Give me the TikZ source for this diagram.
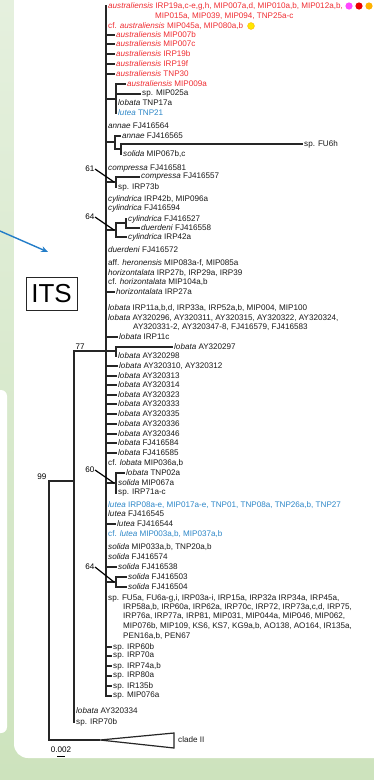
\documentclass[tikz,border=0pt]{standalone}
\usepackage{fontspec}
\setmainfont{Liberation Sans}
\usetikzlibrary{arrows.meta}
\definecolor{austred}{RGB}{240,45,50}
\definecolor{lutblue}{RGB}{45,135,200}
\definecolor{arrblue}{RGB}{35,125,200}
\definecolor{gtop}{RGB}{229,240,222}
\definecolor{gbot}{RGB}{205,227,189}
\definecolor{cmag}{RGB}{255,70,255}
\definecolor{cred}{RGB}{235,0,0}
\definecolor{corange}{RGB}{255,178,0}
\definecolor{cyellow}{RGB}{255,232,0}
\begin{document}
\begin{tikzpicture}[x=1pt,y=-1pt,
  br/.style={draw=black!85,line width=1.2pt},
  tx/.style={anchor=west,inner sep=1pt,font=\fontsize{8.1}{9}\selectfont,text=black!90},
  rd/.style={tx,text=austred},
  bl/.style={tx,text=lutblue},
  ptr/.style={draw=black,line width=1.2pt},
  pl/.style={anchor=east,inner sep=0.5pt,font=\fontsize{8.1}{9}\selectfont}]
\useasboundingbox (0,0) rectangle (374,780);
% background
\shade[top color=gtop,bottom color=gbot] (0,0) rectangle (374,780);
\fill[white,rounded corners=14pt] (14,-30) rectangle (420,758);
\fill[white,rounded corners=6pt] (-20,390) rectangle (7,733);
% arrow and ITS box
\coordinate (arrS) at (0,231);
\coordinate (arrE) at (48,252);
\draw[arrblue,line width=1.4pt,-{Stealth[length=7pt,width=6pt]}] (arrS) -- (arrE);
\node[draw=black!85,line width=0.8pt,minimum width=51pt,minimum height=33pt,inner sep=0pt,font=\fontsize{26}{26}\selectfont] (its) at (51.5,294) {ITS};
% internal nodes
\coordinate (R) at (106,351);
\coordinate (S1) at (116,99);
\coordinate (NA) at (115,142);
\coordinate (NB) at (121,149);
\coordinate (N61) at (116,182);
\coordinate (N64a) at (116,230);
\coordinate (ND) at (126,223);
\coordinate (NE) at (116,351);
\coordinate (N60) at (116,483);
\coordinate (N64b) at (116,582);
\coordinate (N77) at (74,481);
\coordinate (N99) at (49,610);
\coordinate (C2) at (100,740);
% leaves on backbone
\node[rd] (a1) at (107,6) {\textit{australiensis} IRP19a,c-e,g,h, MIP007a,d, MIP010a,b, MIP012a,b,};
\node[rd] (a1b) at (154,16) {MIP015a, MIP039, MIP094, TNP25a-c};
\node[rd] (a2) at (107,26) {cf. \textit{australiensis} MIP045a, MIP080a,b};
\node[rd] (a3) at (115,35) {\textit{australiensis} MIP007b};
\node[rd] (a4) at (115,44) {\textit{australiensis} MIP007c};
\node[rd] (a5) at (115,54) {\textit{australiensis} IRP19b};
\node[rd] (a6) at (115,64) {\textit{australiensis} IRP19f};
\node[rd] (a7) at (115,74) {\textit{australiensis} TNP30};
\node[rd] (s1a) at (126,84) {\textit{australiensis} MIP009a};
\node[tx] (s1b) at (141,94) {sp. MIP025a};
\node[tx] (s1c) at (117,103) {\textit{lobata} TNP17a};
\node[bl] (s1d) at (117,113) {\textit{lutea} TNP21};
\node[tx] (b1) at (107,126) {\textit{annae} FJ416564};
\node[tx] (na1) at (121,136) {\textit{annae} FJ416565};
\node[tx] (nb1) at (303,144) {sp. FU6h};
\node[tx] (nb2) at (122,154) {\textit{solida} MIP067b,c};
\node[tx] (b2) at (107,169) {\textit{compressa} FJ416581};
\node[tx] (c1) at (140,177) {\textit{compressa} FJ416557};
\node[tx] (c2) at (117,187) {sp. IRP73b};
\node[tx] (b3) at (107,199) {\textit{cylindrica} IRP42b, MIP096a};
\node[tx] (b4) at (107,208) {\textit{cylindrica} FJ416594};
\node[tx] (d1) at (127,219) {\textit{cylindrica} FJ416527};
\node[tx] (d2) at (140,228) {\textit{duerdeni} FJ416558};
\node[tx] (d3) at (127,237) {\textit{cylindrica} IRP42a};
\node[tx] (b5) at (107,250) {\textit{duerdeni} FJ416572};
\node[tx] (b6) at (107,263) {aff. \textit{heronensis} MIP083a-f, MIP085a};
\node[tx] (b7) at (107,273) {\textit{horizontalata} IRP27b, IRP29a, IRP39};
\node[tx] (b8) at (107,282) {cf. \textit{horizontalata} MIP104a,b};
\node[tx] (b9) at (115,292) {\textit{horizontalata} IRP27a};
\node[tx] (b10) at (107,308) {\textit{lobata} IRP11a,b,d, IRP33a, IRP52a,b, MIP004, MIP100};
\node[tx] (b11) at (107,318) {\textit{lobata} AY320296, AY320311, AY320315, AY320322, AY320324,};
\node[tx] (b11b) at (132,327) {AY320331-2, AY320347-8, FJ416579, FJ416583};
\node[tx] (b12) at (118,337) {\textit{lobata} IRP11c};
\node[tx] (e1) at (173,347) {\textit{lobata} AY320297};
\node[tx] (e2) at (117,356) {\textit{lobata} AY320298};
\node[tx] (b13) at (118,366) {\textit{lobata} AY320310, AY320312};
\node[tx] (b14) at (117,376) {\textit{lobata} AY320313};
\node[tx] (b15) at (117,385) {\textit{lobata} AY320314};
\node[tx] (b16) at (117,395) {\textit{lobata} AY320323};
\node[tx] (b17) at (117,404) {\textit{lobata} AY320333};
\node[tx] (b18) at (117,414) {\textit{lobata} AY320335};
\node[tx] (b19) at (117,424) {\textit{lobata} AY320336};
\node[tx] (b20) at (117,434) {\textit{lobata} AY320346};
\node[tx] (b21) at (117,443) {\textit{lobata} FJ416584};
\node[tx] (b22) at (117,453) {\textit{lobata} FJ416585};
\node[tx] (b23) at (107,463) {cf. \textit{lobata} MIP036a,b};
\node[tx] (f1) at (125,473) {\textit{lobata} TNP02a};
\node[tx] (f2) at (117,483) {\textit{solida} MIP067a};
\node[tx] (f3) at (117,493) {sp. IRP71a-c};
\node[bl] (b24) at (107,505) {\textit{lutea} IRP08a-e, MIP017a-e, TNP01, TNP08a, TNP26a,b, TNP27};
\node[tx] (b25) at (107,514) {\textit{lutea} FJ416545};
\node[tx] (b26) at (116,524) {\textit{lutea} FJ416544};
\node[bl] (b27) at (107,534) {cf. \textit{lutea} MIP003a,b, MIP037a,b};
\node[tx] (b28) at (107,547) {\textit{solida} MIP033a,b, TNP20a,b};
\node[tx] (b29) at (107,557) {\textit{solida} FJ416574};
\node[tx] (b30) at (117,567) {\textit{solida} FJ416538};
\node[tx] (g1) at (127,577) {\textit{solida} FJ416503};
\node[tx] (g2) at (127,587) {\textit{solida} FJ416504};
\node[tx] (b31) at (107,598) {sp. FU5a, FU6a-g,i, IRP03a-i, IRP15a, IRP32a IRP34a, IRP45a,};
\node[tx] (b31b) at (122,607) {IRP58a,b, IRP60a, IRP62a, IRP70c, IRP72, IRP73a,c,d, IRP75,};
\node[tx] (b31c) at (122,616) {IRP76a, IRP77a, IRP81, MIP031, MIP044a, MIP046, MIP062,};
\node[tx] (b31d) at (122,626) {MIP076b, MIP109, KS6, KS7, KG9a,b, AO138, AO164, IR135a,};
\node[tx] (b31e) at (122,636) {PEN16a,b, PEN67};
\node[tx] (b32) at (112,647) {sp. IRP60b};
\node[tx] (b33) at (112,656) {sp. IRP70a};
\node[tx] (b34) at (112,666) {sp. IRP74a,b};
\node[tx] (b35) at (112,676) {sp. IRP80a};
\node[tx] (b36) at (112,686) {sp. IR135b};
\node[tx] (b37) at (112,696) {sp. MIP076a};
\node[tx] (h1) at (75,711) {\textit{lobata} AY320334};
\node[tx] (h2) at (75,722) {sp. IRP70b};
\node[tx] (cl2) at (177,740) {clade II};
% dots
\fill[cmag] (349,6) circle (3.6);
\fill[cred] (359,6) circle (3.6);
\fill[corange] (369,6) circle (3.6);
\filldraw[fill=cyellow,draw=corange,line width=0.5pt] (251,26) circle (3.4);
% branches
\foreach \l in {a1,a2,a3,a4,a5,a6,a7,b1,b2,b3,b4,b5,b6,b7,b8,b9,b10,b11,b12,b13,b14,b15,b16,b17,b18,b19,b20,b21,b22,b23,b24,b25,b26,b27,b28,b29,b30,b31,b32,b33,b34,b35,b36,b37}
  \draw[br] (R) |- (\l.west);
\draw[br] (R) |- (S1);
\foreach \l in {s1a,s1b,s1c,s1d} \draw[br] (S1) |- (\l.west);
\draw[br] (R) |- (NA);
\draw[br] (NA) |- (na1.west);
\draw[br] (NA) |- (NB);
\draw[br] (NB) |- (nb1.west);
\draw[br] (NB) |- (nb2.west);
\draw[br] (R) |- (N61);
\draw[br] (N61) |- (c1.west);
\draw[br] (N61) |- (c2.west);
\draw[br] (R) |- (N64a);
\draw[br] (N64a) |- (ND);
\draw[br] (ND) |- (d1.west);
\draw[br] (ND) |- (d2.west);
\draw[br] (N64a) |- (d3.west);
\draw[br] (R) -- (NE);
\draw[br] (NE) |- (e1.west);
\draw[br] (NE) |- (e2.west);
\draw[br] (R) |- (N60);
\foreach \l in {f1,f2,f3} \draw[br] (N60) |- (\l.west);
\draw[br] (R) |- (N64b);
\draw[br] (N64b) |- (g1.west);
\draw[br] (N64b) |- (g2.west);
\draw[br] (N77) |- (R);
\draw[br] (N77) |- (h1.west);
\draw[br] (N77) |- (h2.west);
\draw[br] (N99) |- (N77);
\draw[br] (N99) |- (C2);
\draw[br,line join=miter] (C2) -- (174,733) -- (174,748) -- cycle;
% support values
\node[anchor=south west,inner sep=0.5pt,font=\fontsize{8.1}{9}\selectfont] (l77) at (75,350) {77};
\node[anchor=south east,inner sep=0.5pt,font=\fontsize{8.1}{9}\selectfont] (l99) at (47,480) {99};
\node[pl] (p61) at (95,169) {61};
\node[pl] (p64a) at (95,217) {64};
\node[pl] (p60) at (95,470) {60};
\node[pl] (p64b) at (95,567) {64};
\draw[ptr] (p61.east) -- ([xshift=-2pt]N61);
\draw[ptr] (p64a.east) -- ([xshift=-2pt]N64a);
\draw[ptr] (p60.east) -- ([xshift=-2pt]N60);
\draw[ptr] (p64b.east) -- ([xshift=-2pt]N64b);
% scale bar
\node[font=\fontsize{8.1}{9}\selectfont,inner sep=0.5pt] (sc) at (61,750) {0.002};
\coordinate (sbL) at (57,756.5);
\coordinate (sbR) at (65,756.5);
\draw[line width=1pt] (sbL) -- (sbR);
\end{tikzpicture}
\end{document}
